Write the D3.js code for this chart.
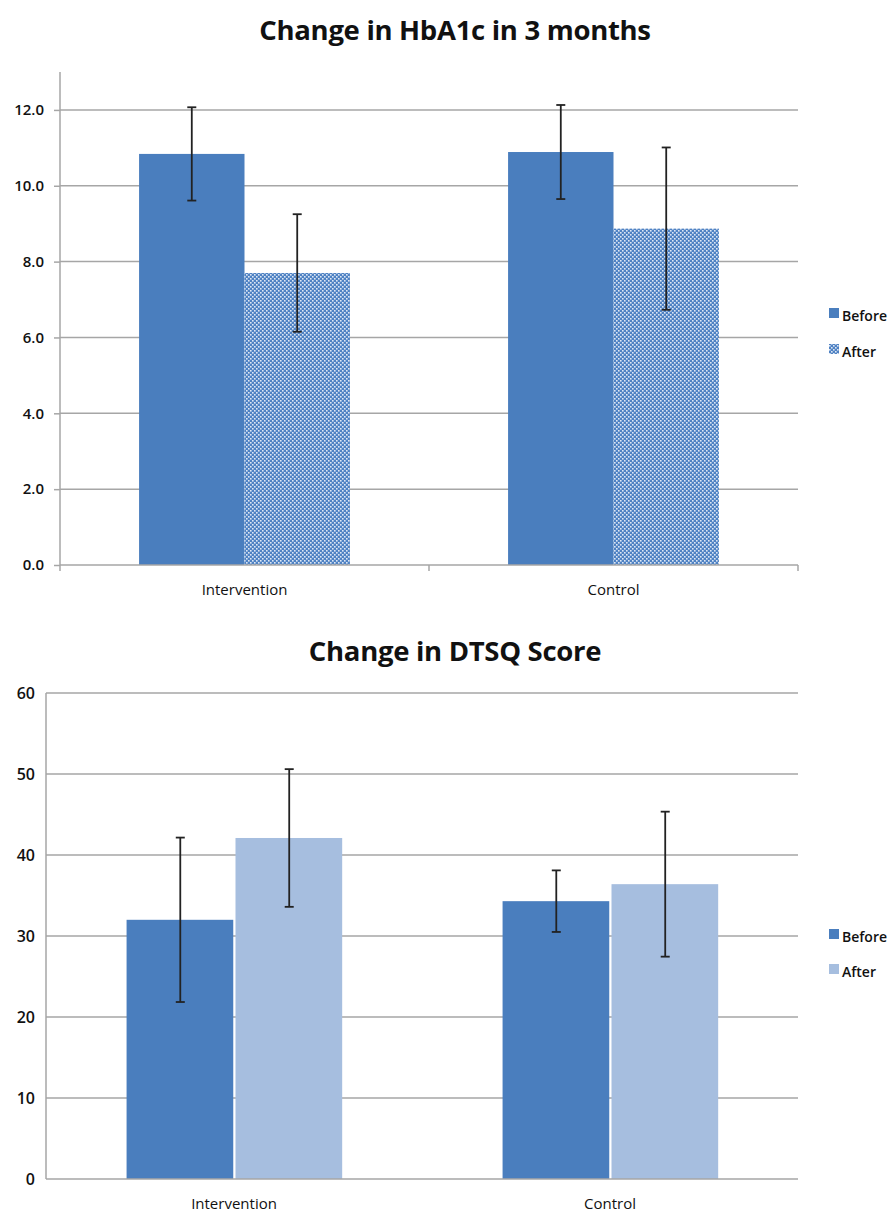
<!DOCTYPE html>
<html lang="en">
<head>
<meta charset="utf-8">
<title>HbA1c and DTSQ</title>
<script src="https://cdn.jsdelivr.net/npm/d3@7/dist/d3.min.js"></script>
<style>
  body { margin: 0; background: #fff; }
  text { font-family: "Open Sans", "Liberation Sans", sans-serif; fill: #111; }
</style>
</head>
<body>
<script>
var categories = ["Intervention", "Control"];
var seriesNames = ["Before", "After"];

// HbA1c (%)
var hbBefore = [10.84, 10.89];
var hbAfter = [7.70, 8.87];
var hbBeforeErr = [1.23, 1.24];
var hbAfterErr = [1.55, 2.14];
var hbTicks = [0, 2, 4, 6, 8, 10, 12];

// DTSQ score
var dtBefore = [32.0, 34.3];
var dtAfter = [42.1, 36.4];
var dtBeforeErr = [10.15, 3.8];
var dtAfterErr = [8.5, 8.95];
var dtTicks = [0, 10, 20, 30, 40, 50, 60];

var W = 893, H = 1212;
var blue = "#4a7ebe", light = "#a6bedf", grid = "#a6a6a6";

var svg = d3.select("body").append("svg")
    .attr("width", W)
    .attr("height", H);

var defs = svg.append("defs");
var pat = defs.append("pattern")
    .attr("id", "checker")
    .attr("patternUnits", "userSpaceOnUse")
    .attr("width", 4)
    .attr("height", 4);
pat.append("rect").attr("width", 4).attr("height", 4).attr("fill", "#4f82c3");
pat.append("rect").attr("x", 0).attr("y", 0).attr("width", 1.6).attr("height", 1.6).attr("fill", "#dde7f5");
pat.append("rect").attr("x", 2).attr("y", 2).attr("width", 1.6).attr("height", 1.6).attr("fill", "#dde7f5");

function drawChart(opt) {
    var g = svg.append("g");

    var x = d3.scaleBand()
        .domain(categories)
        .range([opt.left, opt.right]);
    // Excel-style layout: 150% gap width
    var band = x.bandwidth();
    var barW = band / 3.5;
    var center = function (c) { return x(c) + band / 2; };

    var y = d3.scaleLinear()
        .domain([0, opt.max])
        .range([opt.bottom, opt.top]);

    g.append("text")
        .attr("x", 455)
        .attr("y", opt.titleY)
        .attr("text-anchor", "middle")
        .attr("font-size", "27.5px")
        .attr("font-weight", "bold")
        .attr("letter-spacing", "-0.3px")
        .text(opt.title);

    // gridlines
    g.selectAll(".grid")
        .data(opt.ticks.filter(function (d) { return d > 0; }))
        .enter().append("line")
        .attr("x1", opt.left).attr("x2", opt.right)
        .attr("y1", function (d) { return y(d); })
        .attr("y2", function (d) { return y(d); })
        .attr("stroke", grid)
        .attr("stroke-width", 1.5);

    // y axis
    var yAxis = d3.axisLeft(y)
        .tickValues(opt.ticks)
        .tickSize(opt.tickLen)
        .tickPadding(opt.tickPad)
        .tickFormat(opt.fmt);
    var ya = g.append("g")
        .attr("transform", "translate(" + opt.left + ",0)")
        .call(yAxis);
    ya.select(".domain").remove();
    ya.selectAll(".tick line").attr("stroke", grid).attr("stroke-width", 1.5);
    ya.selectAll(".tick text")
        .attr("font-size", opt.tickFont)
        .attr("font-weight", "600")
        .attr("fill", "#222");
    g.append("line")
        .attr("x1", opt.left).attr("x2", opt.left)
        .attr("y1", opt.top).attr("y2", opt.bottom)
        .attr("stroke", grid).attr("stroke-width", 1.5);

    // bars
    var rows = [];
    categories.forEach(function (c, i) {
        rows.push({ c: c, s: 0, v: opt.before[i], e: opt.beforeErr[i] });
        rows.push({ c: c, s: 1, v: opt.after[i], e: opt.afterErr[i] });
    });
    var bx = function (d) { return center(d.c) - barW + d.s * barW + (d.s ? opt.gap : 0); };

    g.selectAll(".bar")
        .data(rows)
        .enter().append("rect")
        .attr("x", bx)
        .attr("y", function (d) { return y(d.v); })
        .attr("width", barW - (opt.gap ? opt.gap / 2 : 0))
        .attr("height", function (d) { return y(0) - y(d.v); })
        .attr("fill", function (d) { return d.s ? opt.afterFill : blue; });

    // x axis
    var xAxis = d3.axisBottom(x).tickSize(0).tickPadding(opt.catPad);
    var xa = g.append("g")
        .attr("transform", "translate(0," + opt.bottom + ")")
        .call(xAxis);
    xa.select(".domain").remove();
    xa.selectAll(".tick text")
        .attr("font-size", "15px")
        .attr("fill", "#222");
    g.append("line")
        .attr("x1", opt.left).attr("x2", opt.right)
        .attr("y1", opt.bottom).attr("y2", opt.bottom)
        .attr("stroke", grid).attr("stroke-width", 1.5);
    if (opt.catTicks) {
        var edges = [opt.left, opt.left + band, opt.right];
        g.selectAll(".ct")
            .data(edges)
            .enter().append("line")
            .attr("x1", function (d) { return d; })
            .attr("x2", function (d) { return d; })
            .attr("y1", opt.bottom)
            .attr("y2", opt.bottom + 6)
            .attr("stroke", grid).attr("stroke-width", 1.5);
    }

    // error bars
    var ex = function (d) { return bx(d) + barW / 2; };
    var eb = g.selectAll(".err").data(rows).enter().append("g").attr("stroke", "#222").attr("stroke-width", 1.8);
    eb.append("line")
        .attr("x1", ex).attr("x2", ex)
        .attr("y1", function (d) { return y(d.v + d.e); })
        .attr("y2", function (d) { return y(d.v - d.e); });
    eb.append("line")
        .attr("x1", function (d) { return ex(d) - 4.5; })
        .attr("x2", function (d) { return ex(d) + 4.5; })
        .attr("y1", function (d) { return y(d.v + d.e); })
        .attr("y2", function (d) { return y(d.v + d.e); });
    eb.append("line")
        .attr("x1", function (d) { return ex(d) - 4.5; })
        .attr("x2", function (d) { return ex(d) + 4.5; })
        .attr("y1", function (d) { return y(d.v - d.e); })
        .attr("y2", function (d) { return y(d.v - d.e); });

    // legend
    var lg = g.selectAll(".lg")
        .data(seriesNames)
        .enter().append("g")
        .attr("transform", function (d, i) { return "translate(829," + (opt.legendY + i * opt.legendStep) + ")"; });
    lg.append("rect")
        .attr("x", 0).attr("y", -13)
        .attr("width", 10).attr("height", 10)
        .attr("fill", function (d, i) { return i ? opt.afterFill : blue; });
    lg.append("text")
        .attr("x", 13).attr("y", 0)
        .attr("font-size", "14px")
        .attr("font-weight", "600")
        .text(function (d) { return d; });
}

drawChart({
    title: "Change in HbA1c in 3 months", titleY: 40,
    left: 60, right: 798, top: 72, bottom: 565, max: 13,
    ticks: hbTicks, fmt: d3.format(".1f"), tickLen: 6, tickPad: 10, tickFont: "15px",
    before: hbBefore, after: hbAfter, beforeErr: hbBeforeErr, afterErr: hbAfterErr,
    afterFill: "url(#checker)", gap: 0, catPad: 19, catTicks: true,
    legendY: 321, legendStep: 36
});

drawChart({
    title: "Change in DTSQ Score", titleY: 661,
    left: 46, right: 798, top: 693, bottom: 1179, max: 60,
    ticks: dtTicks, fmt: d3.format("d"), tickLen: 0, tickPad: 11, tickFont: "16px",
    before: dtBefore, after: dtAfter, beforeErr: dtBeforeErr, afterErr: dtAfterErr,
    afterFill: light, gap: 1.5, catPad: 19, catTicks: false,
    legendY: 942, legendStep: 35
});
</script>
</body>
</html>
